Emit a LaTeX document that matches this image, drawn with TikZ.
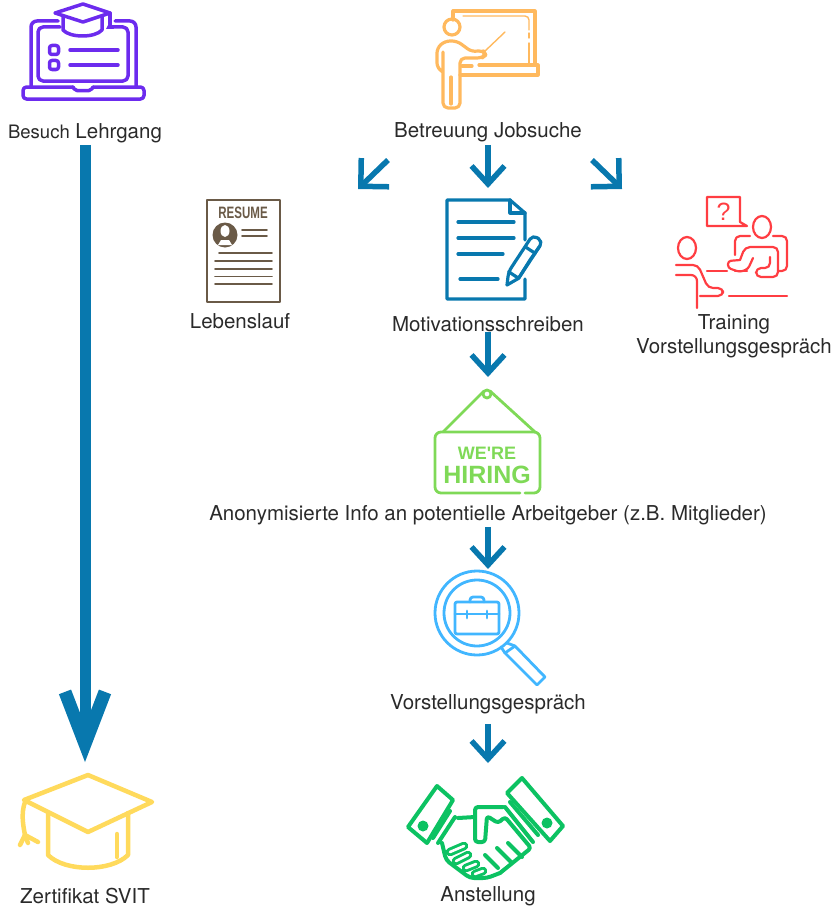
\documentclass[tikz,border=0pt]{standalone}
\usepackage{fontspec}
\setmainfont{TeX Gyre Heros}
\newfontfamily\signfont{Liberation Sans}
\usetikzlibrary{arrows.meta}
\definecolor{flowblue}{HTML}{0878AE}
\definecolor{lehrgangviolet}{HTML}{6C2BEE}
\definecolor{teacherorange}{HTML}{FFB95E}
\definecolor{resumebrown}{HTML}{6A5A47}
\definecolor{trainingred}{HTML}{FF3D42}
\definecolor{hiringgreen}{HTML}{7FD957}
\definecolor{searchblue}{HTML}{41B6FF}
\definecolor{shakegreen}{HTML}{0CC262}
\definecolor{capyellow}{HTML}{FFDA5C}
\definecolor{labelgrey}{HTML}{2A2A2A}
\tikzset{
  lbl/.style={inner sep=0pt,align=center,text=labelgrey,font=\fontsize{20.5}{24}\selectfont},
  iconbox/.style={inner sep=0pt,outer sep=0pt},
  smallflow/.style={draw=flowblue,line cap=butt,line width=5.5pt,-{Straight Barb[length=18pt,width=33pt]}},
  sideflow/.style={draw=flowblue,line cap=butt,line width=5.5pt,-{Straight Barb[length=20pt,width=40pt]}},
  bigflow/.style={draw=flowblue,line cap=butt,line width=11pt,-{Straight Barb[length=52pt,width=40pt,line width=13pt]}},
}
\begin{document}
\begin{tikzpicture}[x=1pt,y=-1pt,line cap=round,line join=round]
  \useasboundingbox (0,0) rectangle (840,907);

  % labels
  \node[lbl] (besuch) at (85,133) {{\fontsize{18.5}{24}\selectfont Besuch} Lehrgang};
  \node[lbl] (jobsuche) at (488,132) {Betreuung Jobsuche};
  \node[lbl] (lebenslauf) at (240,321) {Lebenslauf};
  \node[lbl] (motivation) at (488,324) {Motivationsschreiben};
  \node[lbl] (training) at (734,336) {Training\\Vorstellungsgespräch};
  \node[lbl] (info) at (488,515) {Anonymisierte Info an potentielle Arbeitgeber (z.B. Mitglieder)};
  \node[lbl] (gespraech) at (488,704) {Vorstellungsgespräch};
  \node[lbl] (zertifikat) at (85,896) {Zertifikat SVIT};
  \node[lbl] (anstellung) at (488,896) {Anstellung};

  % icon places
  \node[iconbox,minimum width=78pt,minimum height=100pt] (lettericon) at (488,249) {};
  \node[iconbox,minimum width=106pt,minimum height=104pt] (hiringicon) at (488,441) {};
  \node[iconbox,minimum width=110pt,minimum height=110pt] (searchicon) at (488,631) {};
  \node[iconbox,minimum width=156pt,minimum height=100pt] (shakeicon) at (488,827) {};
  \node[iconbox,minimum width=130pt,minimum height=94pt] (capicon) at (85,822) {};
  \coordinate (leftstart) at (388,160);
  \coordinate (lefttip) at (358,189);
  \coordinate (rightstart) at (592,160);
  \coordinate (righttip) at (622,189);

  % arrows
  \draw[bigflow,shorten <=2pt,shorten >=13pt] (besuch.south) -- (capicon.north);
  \draw[smallflow,shorten <=3pt,shorten >=11pt] (jobsuche.south) -- (lettericon.north);
  \draw[sideflow] (leftstart) -- (lefttip);
  \draw[sideflow] (rightstart) -- (righttip);
  \draw[smallflow,shorten <=0pt,shorten >=12pt] (motivation.south) -- (hiringicon.north);
  \draw[smallflow,shorten <=2pt,shorten >=7pt] (info.south) -- (searchicon.north);
  \draw[smallflow,shorten <=10pt,shorten >=14pt] (gespraech.south) -- (shakeicon.north);

  % laptop
  \begin{scope}[draw=lehrgangviolet,line width=3.5pt]
    \draw[rounded corners=6pt] (58,21) -- (31,21) -- (31,87);
    \draw[rounded corners=6pt] (115,21) -- (136,21) -- (136,87);
    \draw[rounded corners=5pt] (60,27) -- (38,27) -- (38,81) -- (128,81) -- (128,27) -- (112,27);
    \draw[rounded corners=3.5pt] (73,87) -- (23,87) -- (23,99) -- (144,99) -- (144,87) -- (93,87);
    \draw[rounded corners=2pt] (73,87) -- (75,90.5) -- (91,90.5) -- (93,87);
    \draw[rounded corners=2.5pt] (49.5,45.5) rectangle (58.5,54.5);
    \draw[rounded corners=2.5pt] (49.5,60.5) rectangle (58.5,69.5);
    \draw (70,50) -- (118,50);
    \draw (70,65) -- (118,65);
    \draw (83,4) -- (110,13) -- (83,22) -- (55,13) -- cycle;
    \draw (63,17) -- (63,30) .. controls (70,38) and (95,38) .. (102,30) -- (102,17);
    \draw (110,13) -- (110,24);
    \fill[lehrgangviolet] (110,21) -- (114,29) -- (106,29) -- cycle;
  \end{scope}

  % teacher
  \begin{scope}[draw=teacherorange,line width=3.2pt]
    \draw (453,20) -- (453,11) -- (535,11) -- (535,65);
    \draw (460,75) -- (538,75) -- (538,65) -- (479,65);
    \draw (462,66) -- (472,66);
    \draw[line width=1.4pt,rounded corners=4pt] (463,16) -- (529,16) -- (529,30);
    \draw[line width=1.4pt] (529,33) -- (529,38);
    \draw[line width=1.4pt] (529,43) -- (529,64);
    \draw (452,27) circle (8pt);
    \draw[rounded corners=5pt] (443,72) -- (437,68) -- (437,48) -- (445,41) -- (457,41) -- (472,52) -- (483,50) -- (486,55) -- (482,58) -- (460,58) -- (460,108) -- (443,108) -- (443,52);
    \draw (451,77) -- (451,104);
    \draw[line width=1.4pt] (484,52) -- (505,32);
  \end{scope}

  % resume
  \begin{scope}[draw=resumebrown,line width=1.9pt]
    \draw (207,200) rectangle (280,302);
    \node[iconbox,text=resumebrown,xscale=.7,font=\signfont\bfseries\fontsize{16.5}{18}\selectfont] (resumeword) at (243,213) {RESUME};
    \fill[resumebrown] (225,235) circle (12.5pt);
    \fill[white] (225,231) ellipse (4.5pt and 6pt);
    \fill[white] (218,245) -- (221,240) -- (229,240) -- (232,245) -- cycle;
    \draw (242,230) -- (267,230);
    \draw (242,236) -- (267,236);
    \draw (219,253) -- (272,253);
    \foreach \liney in {261,269,276.5,284} {
      \draw (215,\liney) -- (272,\liney);
    }
  \end{scope}

  % letter with pencil
  \begin{scope}[draw=flowblue,line width=3.2pt]
    \draw (525,240) -- (525,213) -- (510,200) -- (447,200) -- (447,299) -- (525,299) -- (525,279);
    \draw (510,200) -- (510,213) -- (525,213);
    \draw (458,222) -- (514,222);
    \draw (458,238) -- (514,238);
    \draw (458,254) -- (503,254);
    \draw (460,279) -- (498,279);
    \draw[rounded corners=1pt] (507,285) -- (518.6,278.3) -- (530,260) -- (539.5,246.5);
    \draw[rounded corners=5pt] (518.6,278.3) -- (542.8,241.5) -- (532.8,234.9) -- (508.6,271.7) -- (507,285);
    \draw (535.1,253.3) -- (525.1,246.7);
    \draw (508.6,271.7) -- (518.6,278.3);
  \end{scope}

  % interview
  \begin{scope}[draw=trainingred,line width=2.2pt]
    \draw (707,197) -- (740,197) -- (740,222) -- (747,226) -- (707,226) -- cycle;
    \node[iconbox,text=trainingred,font=\signfont\fontsize{25}{27}\selectfont] (question) at (723.5,212) {?};
    \draw (762,227) ellipse (9pt and 11pt);
    \draw[rounded corners=5pt] (735,255) -- (735,236) -- (750,236);
    \draw[rounded corners=5pt] (773,236) -- (787,236) -- (787,271) -- (778,271);
    \draw (707,271) -- (727,271);
    \draw (735,271) -- (747,271);
    \draw[rounded corners=5pt] (740,260) -- (745,247) -- (778,247) -- (778,277) -- (756,277) -- (756,268) -- (770,268) -- (770,257);
    \draw[rounded corners=3pt] (740,260) -- (728,261) -- (728,268) -- (740,272) -- (748,269) -- (753,258);
    \draw (687,248) ellipse (9pt and 11pt);
    \draw[rounded corners=5pt] (676,265) -- (698,265) -- (708,288) -- (723,288) -- (723,296) -- (700,296);
    \draw[rounded corners=6pt] (676,275) -- (697,275) -- (697,308);
    \draw (729,296) -- (787,296);
  \end{scope}

  % hiring sign
  \begin{scope}[draw=hiringgreen,line width=2.8pt]
    \draw[rounded corners=6pt] (520,493) -- (435,493) -- (435,432) -- (540,432) -- (540,493) -- (525,493);
    \draw (443,432) -- (484,391);
    \draw (490,391) -- (535,432);
    \draw (487,394) circle (4pt);
    \node[iconbox,text=hiringgreen,font=\signfont\bfseries\fontsize{18}{20}\selectfont] (wearetext) at (487,453) {WE'RE};
    \node[iconbox,text=hiringgreen,font=\signfont\bfseries\fontsize{25}{27}\selectfont] (hiringtext) at (487,475) {HIRING};
  \end{scope}

  % magnifier
  \begin{scope}[draw=searchblue,line width=2.8pt]
    \draw (477,613) circle (42pt);
    \draw (477,613) circle (33pt);
    \draw (515,646) -- (545,677) -- (537,685) -- (505,653) -- cycle;
    \draw (507,643) -- (515,646);
    \draw (501,647) -- (505,653);
    \draw[rounded corners=2pt] (455,602) rectangle (499,634);
    \draw[rounded corners=3pt] (470,602) -- (470,597) -- (484,597) -- (484,602);
    \draw (455,614) -- (499,614);
    \draw (467,611) -- (467,618);
    \draw (487,611) -- (487,618);
  \end{scope}

  % handshake
  \begin{scope}[draw=shakegreen,line width=4pt]
    \draw (437,786) -- (453,800) -- (427,843) -- (408,827) -- cycle;
    \fill[shakegreen] (423,826) circle (5.5pt);
    \draw (522,778) -- (563,826) -- (550,841) -- (507,793) -- cycle;
    \fill[shakegreen] (547,823) circle (5.5pt);
    \draw (450,811) -- (433,838);
    \draw (455,817) -- (438,843);
    \draw (510,802) -- (538,835);
    \draw (505,807) -- (533,842);
    \draw (458,818) -- (475,817);
    \draw[rounded corners=3pt] (503,807) -- (475,807) -- (475,842) -- (485,842) -- (487,816) -- (498,823) -- (505,817) -- (531,848) -- (500,873);
    \draw (485,855) -- (498,868);
    \draw (497,848) -- (512,863);
    \draw (508,843) -- (522,857);
    \draw[rounded corners=4pt] (442,843) -- (446,860) -- (470,878) -- (487,878) -- (500,873);
    \foreach \fx/\fy/\gx/\gy in {450/852/464/846,456/861/468/855,466/868/476/864,475/874/483/871} {
      \draw[line width=8.5pt,shakegreen] (\fx,\fy) -- (\gx,\gy);
      \draw[line width=2.6pt,white] (\fx,\fy) -- (\gx,\gy);
    }
  \end{scope}

  % graduation cap
  \begin{scope}[draw=capyellow,line width=4.5pt]
    \draw (88,775) -- (152,802) -- (88,832) -- (24,800) -- cycle;
    \draw (48,813) -- (48,855) .. controls (65,872) and (111,872) .. (128,855) -- (128,813);
    \draw (117,834) -- (117,857);
    \draw (25,802) .. controls (21,813) and (23,825) .. (25,835);
    \draw (25,835) -- (20,845);
    \draw (25,835) -- (28,843);
    \draw (25,835) -- (38,842);
  \end{scope}
\end{tikzpicture}
\end{document}
